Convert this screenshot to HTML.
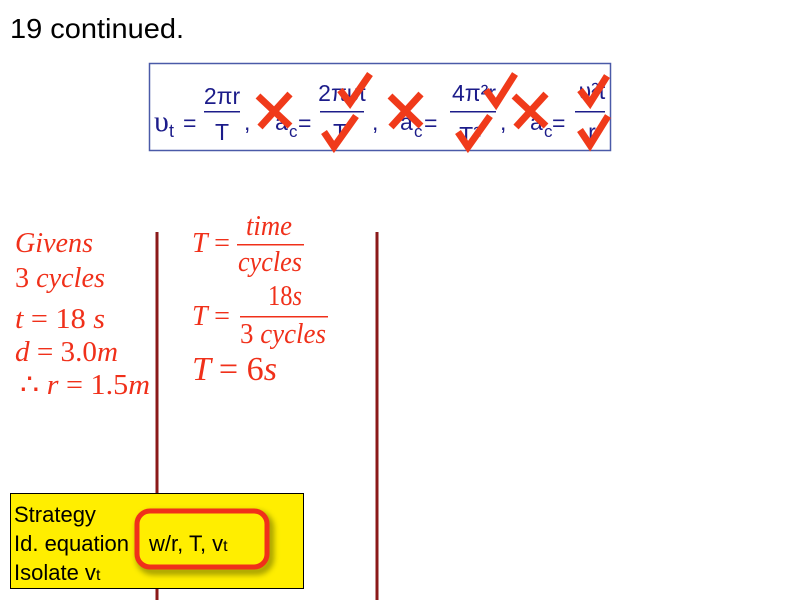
<!DOCTYPE html>
<html><head><meta charset="utf-8"><style>
body{margin:0;width:800px;height:600px;background:#fff;overflow:hidden;position:relative;font-family:"Liberation Sans",sans-serif}
</style></head><body>
<svg width="800" height="600" style="position:absolute;left:0;top:0" font-family="Liberation Sans, sans-serif">
<defs><filter id="bl" x="-20%" y="-20%" width="140%" height="140%"><feGaussianBlur stdDeviation="3"/></filter></defs>
<text x="10" y="38" font-size="28" fill="#000" textLength="174" lengthAdjust="spacingAndGlyphs">19 continued.</text>
<rect x="149.5" y="63.5" width="461" height="87" fill="#fff" stroke="#4a5aa8" stroke-width="1.5"/>
<g fill="#1c1c8a" font-size="23">
<text x="154" y="131" font-family="Liberation Serif, serif" font-size="30">υ</text><text x="169" y="137" font-size="18">t</text>
<text x="183" y="131">=</text>
<text x="222" y="104" text-anchor="middle">2πr</text><rect x="204" y="111" width="36" height="1.5"/><text x="222" y="140" text-anchor="middle">T</text>
<text x="244" y="130">,</text>
<text x="275" y="130">a</text><text x="289" y="137" font-size="17">c</text>
<text x="298" y="131">=</text>
<text x="342" y="101" text-anchor="middle">2πυt</text><rect x="320" y="111" width="44" height="1.5"/><text x="340" y="140" text-anchor="middle">T</text>
<text x="372" y="130">,</text>
<text x="400" y="130">a</text><text x="414" y="137" font-size="17">c</text>
<text x="424" y="131">=</text>
<text x="474" y="101" text-anchor="middle">4π²r</text><rect x="450" y="111" width="46" height="1.5"/><text x="470" y="143" text-anchor="middle">T²</text>
<text x="500" y="130">,</text>
<text x="530" y="130">a</text><text x="544" y="137" font-size="17">c</text>
<text x="552" y="131">=</text>
<text x="592" y="99" text-anchor="middle">υ²t</text><rect x="575" y="111" width="30" height="1.5"/><text x="592" y="140" text-anchor="middle">r</text>
</g>
<g stroke="#f03a1a" stroke-width="7" fill="none">
<path d="M258 96 L290 126 M290 94 L260 127"/>
<path d="M390 96 L421 126 M421 94 L391 127"/>
<path d="M514 96 L546 126 M546 94 L516 127"/>
</g>
<g stroke="#f03a1a" stroke-width="7" fill="none">
<path d="M340 90 L350 103 L370 74"/>
<path d="M324 132 L334 147 L356 116"/>
<path d="M458 132 L468 147 L490 116"/>
<path d="M486 90 L496 104 L515 74"/>
<path d="M580 90 L590 103 L607 76"/>
<path d="M580 130 L590 145 L608 116"/>
</g>
<g stroke="#8b1a1a" stroke-width="3"><line x1="157" y1="232" x2="157" y2="600"/><line x1="377" y1="232" x2="377" y2="600"/></g>
<g fill="#f0301a" font-family="Liberation Serif, serif" font-style="italic" font-size="29">
<text x="15" y="252" textLength="78" lengthAdjust="spacingAndGlyphs">Givens</text>
<text x="15" y="287" textLength="90" lengthAdjust="spacingAndGlyphs"><tspan font-style="normal">3</tspan> cycles</text>
<text x="15" y="328" textLength="90" lengthAdjust="spacingAndGlyphs">t <tspan font-style="normal">= 18</tspan> s</text>
<text x="15" y="361" textLength="103" lengthAdjust="spacingAndGlyphs">d <tspan font-style="normal">= 3.0</tspan>m</text>
<text x="20" y="394" textLength="130" lengthAdjust="spacingAndGlyphs"><tspan font-style="normal">∴</tspan> r <tspan font-style="normal">= 1.5</tspan>m</text>
<text x="192" y="252" textLength="38" lengthAdjust="spacingAndGlyphs">T <tspan font-style="normal">=</tspan></text>
<text x="246" y="235" textLength="46" lengthAdjust="spacingAndGlyphs">time</text><rect x="237" y="244" width="67" height="1.5"/>
<text x="238" y="271" textLength="64" lengthAdjust="spacingAndGlyphs">cycles</text>
<text x="192" y="325" textLength="38" lengthAdjust="spacingAndGlyphs">T <tspan font-style="normal">=</tspan></text>
<text x="268" y="305" textLength="34" lengthAdjust="spacingAndGlyphs"><tspan font-style="normal">18</tspan>s</text><rect x="240" y="316" width="88" height="1.5"/>
<text x="240" y="343" textLength="86" lengthAdjust="spacingAndGlyphs"><tspan font-style="normal">3</tspan> cycles</text>
<text x="192" y="380" font-size="34" textLength="85" lengthAdjust="spacingAndGlyphs">T <tspan font-style="normal">= 6</tspan>s</text>
</g>
<rect x="10.5" y="493.5" width="293" height="95" fill="#ffee00" stroke="#000" stroke-width="1"/>
<g font-size="22" fill="#000">
<text x="14" y="522">Strategy</text>
<text x="14" y="551">Id. equation</text>
<text x="14" y="580">Isolate v<tspan font-size="16">t</tspan></text>
</g>
<rect x="140" y="515" width="130" height="56" rx="13" fill="none" stroke="#6a6a00" stroke-width="8" opacity="0.6" filter="url(#bl)"/>
<rect x="137" y="511" width="130" height="56" rx="13" fill="#ffee00" stroke="#f0301a" stroke-width="5"/>
<text x="149" y="551" font-size="22" fill="#000">w/r, T, v<tspan font-size="16">t</tspan></text>
</svg>
</body></html>
